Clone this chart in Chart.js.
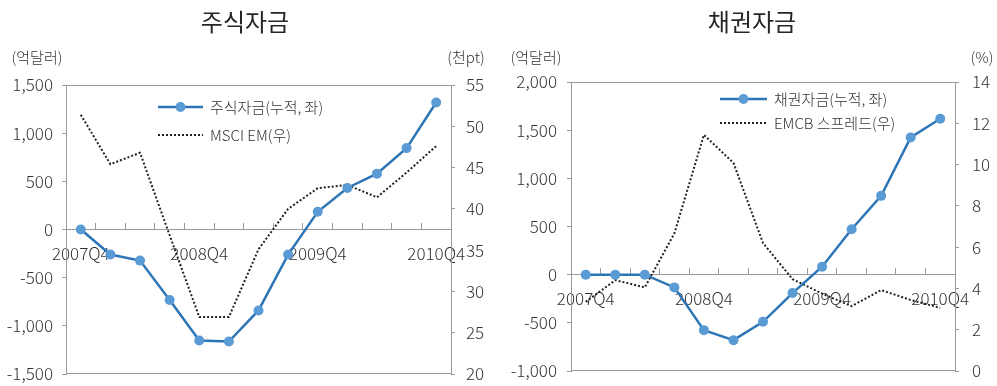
<!DOCTYPE html>
<html>
<head>
<meta charset="utf-8">
<script src="https://cdn.jsdelivr.net/npm/chart.js@4/dist/chart.umd.min.js"></script>
<style>
  html, body { margin: 0; padding: 0; background: #fff; }
  #wrap { position: relative; width: 997px; height: 386px; overflow: hidden; }
  #stock { position: absolute; left: 0; top: 0; }
  #bond { position: absolute; left: 497px; top: 0; }
</style>
</head>
<body>
<div id="wrap">
  <canvas id="stock" width="500" height="386"></canvas>
  <canvas id="bond" width="500" height="386"></canvas>
</div>
<script>
// Quarterly categories, only every fourth one is labelled on the axis
const quarters = ['2007Q4', '2008Q1', '2008Q2', '2008Q3', '2008Q4', '2009Q1', '2009Q2',
                  '2009Q3', '2009Q4', '2010Q1', '2010Q2', '2010Q3', '2010Q4'];

// Equity fund flows (cumulative, 100M USD) and MSCI EM index (thousand pt)
const stockFlows = [0, -260, -323, -732, -1152, -1163, -840, -260, 184, 431, 580, 845, 1318];
const msciEm = [51.4, 45.4, 46.8, 36.8, 26.9, 26.9, 35.1, 40.0, 42.5, 42.9, 41.4, 44.4, 47.6];

// Bond fund flows (cumulative, 100M USD) and EM corporate bond spread (%)
const bondFlows = [0, 0, 0, -132, -576, -680, -489, -191, 83, 472, 818, 1425, 1619];
const emcbSpread = [3.35, 4.4, 4.05, 6.67, 11.44, 10.08, 6.2, 4.45, 3.75, 3.14, 3.92, 3.44, 3.06];

// Axis ranges
const stockLeftAxis = { min: -1500, max: 1500, step: 500 };
const stockRightAxis = { min: 20, max: 55, step: 5 };
const bondLeftAxis = { min: -1000, max: 2000, step: 500 };
const bondRightAxis = { min: 0, max: 14, step: 2 };

// Text
const stockTitle = '주식자금';
const bondTitle = '채권자금';
const stockSeriesNames = ['주식자금(누적, 좌)', 'MSCI EM(우)'];
const bondSeriesNames = ['채권자금(누적, 좌)', 'EMCB 스프레드(우)'];
const stockUnits = ['(억달러)', '(천pt)'];
const bondUnits = ['(억달러)', '(%)'];

const FONT = '"Noto Sans CJK KR", "Noto Sans", sans-serif';
const TEXT = '#333333';
const AXIS = '#9a9a9a';
const LINE_BLUE = '#2e75b6';
const DOT_BLUE = '#5b9bd5';

// Draws the frame, the title, the unit captions and the legend
const decorations = {
  id: 'decorations',
  afterDraw(chart, args, o) {
    const { ctx, chartArea: a } = chart;
    ctx.save();
    // top and bottom frame lines
    ctx.strokeStyle = AXIS;
    ctx.lineWidth = 1;
    ctx.beginPath();
    ctx.moveTo(a.left, Math.round(a.top) + 0.5);
    ctx.lineTo(a.right, Math.round(a.top) + 0.5);
    ctx.moveTo(a.left, Math.round(a.bottom) - 0.5);
    ctx.lineTo(a.right, Math.round(a.bottom) - 0.5);
    ctx.stroke();

    // title
    ctx.fillStyle = '#262626';
    ctx.font = '400 24px ' + FONT;
    ctx.textAlign = 'center';
    ctx.textBaseline = 'middle';
    ctx.fillText(o.title, o.titleX, 22);

    // unit captions
    ctx.fillStyle = TEXT;
    ctx.font = '300 15px ' + FONT;
    ctx.fillText(o.units[0], o.unitLeftX, 57);
    ctx.fillText(o.units[1], o.unitRightX, 57);

    // legend
    const ds = chart.data.datasets;
    const [x0, x1] = o.legendLine;
    const ys = o.legendY;
    ctx.textAlign = 'left';
    ctx.font = '300 15px ' + FONT;
    ds.forEach((d, i) => {
      const y = ys[i];
      ctx.save();
      ctx.strokeStyle = d.borderColor;
      ctx.lineWidth = d.borderWidth;
      ctx.setLineDash(d.borderDash || []);
      ctx.beginPath();
      ctx.moveTo(x0, y);
      ctx.lineTo(x1, y);
      ctx.stroke();
      if (d.pointRadius > 0) {
        ctx.setLineDash([]);
        ctx.fillStyle = d.pointBackgroundColor;
        ctx.beginPath();
        ctx.arc((x0 + x1) / 2, y, d.pointRadius, 0, Math.PI * 2);
        ctx.fill();
      }
      ctx.restore();
      ctx.fillStyle = TEXT;
      ctx.fillText(d.label, x1 + 7, y);
    });
    ctx.restore();
  }
};

function fmt(v) {
  return Number(v).toLocaleString('en-US');
}

// Fixed axis width; the plot area edges are set by the layout padding alone
function fixWidth(w) {
  return s => {
    s.width = w;
    s.paddingTop = 0;
    s.paddingBottom = 0;
  };
}

function buildChart(id, cfg) {
  const tickFont = { family: FONT, size: 17, weight: '300' };
  return new Chart(document.getElementById(id), {
    type: 'line',
    data: {
      labels: quarters,
      datasets: [
        {
          label: cfg.names[0],
          data: cfg.flows,
          yAxisID: 'y',
          borderColor: LINE_BLUE,
          borderWidth: 2.5,
          pointRadius: 5,
          pointBackgroundColor: DOT_BLUE,
          pointBorderColor: DOT_BLUE,
          pointBorderWidth: 0,
          tension: 0,
          order: 0
        },
        {
          label: cfg.names[1],
          data: cfg.index,
          yAxisID: 'y1',
          borderColor: '#222222',
          borderWidth: 2,
          borderDash: [2, 2],
          pointRadius: 0,
          tension: 0,
          order: 1
        }
      ]
    },
    options: {
      responsive: false,
      animation: false,
      devicePixelRatio: 1,
      layout: { padding: { top: cfg.top, bottom: cfg.bottom, left: 0, right: 0 } },
      plugins: {
        legend: { display: false },
        tooltip: { enabled: false },
        decorations: cfg.deco
      },
      scales: {
        x: {
          type: 'category',
          position: { y: 0 },
          offset: true,
          grid: {
            offset: true,
            drawOnChartArea: false,
            drawTicks: true,
            tickLength: -7,
            color: AXIS
          },
          border: { display: true, color: AXIS, width: 1 },
          ticks: {
            autoSkip: false,
            maxRotation: 0,
            padding: 21,
            color: TEXT,
            font: tickFont,
            callback: (v, i) => (i % 4 === 0 ? quarters[i] : '')
          }
        },
        y: {
          position: 'left',
          min: cfg.left.min,
          max: cfg.left.max,
          afterFit: fixWidth(cfg.leftWidth),
          grid: { drawOnChartArea: false, tickLength: 4, color: AXIS },
          border: { display: true, color: AXIS },
          ticks: {
            stepSize: cfg.left.step,
            padding: cfg.leftPad,
            color: TEXT,
            font: tickFont,
            callback: v => fmt(v)
          }
        },
        y1: {
          position: 'right',
          min: cfg.right.min,
          max: cfg.right.max,
          afterFit: fixWidth(cfg.rightWidth),
          grid: { drawOnChartArea: false, tickLength: 4, color: AXIS },
          border: { display: true, color: AXIS },
          ticks: {
            stepSize: cfg.right.step,
            padding: cfg.rightPad,
            color: TEXT,
            font: tickFont,
            callback: v => fmt(v)
          }
        }
      }
    },
    plugins: [decorations]
  });
}

buildChart('stock', {
  flows: stockFlows,
  index: msciEm,
  names: stockSeriesNames,
  left: stockLeftAxis,
  right: stockRightAxis,
  top: 85, bottom: 12,
  leftWidth: 66, rightWidth: 49,
  leftPad: 9, rightPad: 11,
  deco: {
    title: stockTitle, titleX: 245,
    units: stockUnits, unitLeftX: 37, unitRightX: 466,
    legendLine: [158, 203], legendY: [107, 135]
  }
});

buildChart('bond', {
  flows: bondFlows,
  index: emcbSpread,
  names: bondSeriesNames,
  left: bondLeftAxis,
  right: bondRightAxis,
  top: 82, bottom: 15,
  leftWidth: 74, rightWidth: 42,
  leftPad: 10, rightPad: 13,
  deco: {
    title: bondTitle, titleX: 255,
    units: bondUnits, unitLeftX: 39, unitRightX: 485,
    legendLine: [223, 270], legendY: [99, 123]
  }
});
</script>
</body>
</html>
